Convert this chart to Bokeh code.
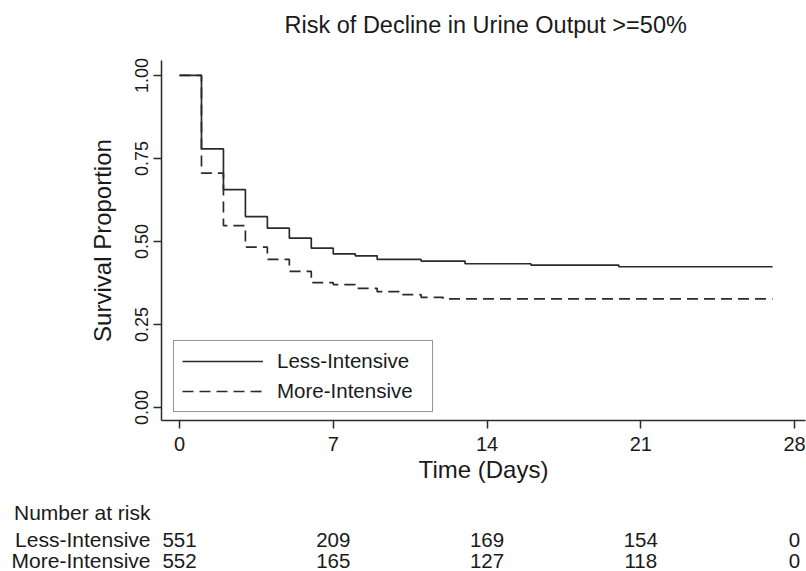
from bokeh.plotting import figure
from bokeh.models import (Range1d, FixedTicker, Legend, LegendItem, ColumnDataSource,
                          LabelSet)
from bokeh.layouts import column
from bokeh.embed import file_html
from bokeh.resources import INLINE
from bokeh.core.properties import value

# ---------------- data ----------------
title_text = "Risk of Decline in Urine Output >=50%"
groups = ["Less-Intensive", "More-Intensive"]

less_t = [0, 1, 2, 3, 4, 5, 6, 7, 8, 9, 11, 13, 16, 20, 27]
less_s = [1.0, 0.779, 0.656, 0.575, 0.540, 0.510, 0.480, 0.463, 0.457, 0.446,
          0.441, 0.433, 0.429, 0.424, 0.424]

more_t = [0, 1, 2, 3, 4, 5, 6, 7, 8, 9, 10, 11, 12, 27]
more_s = [1.0, 0.706, 0.548, 0.483, 0.446, 0.410, 0.376, 0.370, 0.359, 0.349,
          0.340, 0.332, 0.327, 0.327]

x_ticks = [0, 7, 14, 21, 28]
y_ticks = [0, 0.25, 0.5, 0.75, 1.0]
y_tick_labels = ["0.00", "0.25", "0.50", "0.75", "1.00"]

risk_title = "Number at risk"
risk_times = [0, 7, 14, 21, 28]
risk_less = [551, 209, 169, 154, 0]
risk_more = [552, 165, 127, 118, 0]

# ---------------- style / layout ----------------
FONT = "Liberation Sans"
TXT = "#1a1a1a"
LINE = "#2b2b2b"
W = 806
HT = 40                      # title strip
H1 = 450                     # main plot
H2 = 81                      # number-at-risk strip
BL, BR = 161, 1
x_start, x_end = -0.82, 28.5
y_start, y_end = -0.039, 1.045
TITLE_Y = 24
ROW_Y = [22, 49, 70]         # row centres (px from top of the table strip)


def bare(fig):
    fig.outline_line_color = None
    fig.grid.visible = False
    fig.border_fill_color = "white"
    fig.background_fill_color = "white"


# ---------------- title strip ----------------
pt = figure(width=W, height=HT, output_backend="svg", toolbar_location=None,
            x_range=Range1d(x_start, x_end), y_range=Range1d(HT, 0),
            min_border_left=BL, min_border_right=BR, min_border_top=0,
            min_border_bottom=0, x_axis_location=None, y_axis_location=None)
bare(pt)
pt.text(x=[(x_start + x_end) / 2 + 0.1], y=[TITLE_Y], text=[title_text],
        text_align="center", text_baseline="middle", text_font=value(FONT),
        text_font_size="23.5px", text_color=TXT)

# ---------------- main plot ----------------
p = figure(width=W, height=H1, output_backend="svg", toolbar_location=None,
           x_range=pt.x_range, y_range=Range1d(y_start, y_end),
           min_border_left=BL, min_border_right=BR, min_border_top=20,
           min_border_bottom=70)
bare(p)

for ax in (p.xaxis[0], p.yaxis[0]):
    ax.axis_line_color = LINE
    ax.axis_line_width = 1.5
    ax.major_tick_line_color = LINE
    ax.major_tick_line_width = 1.5
    ax.major_tick_out = 8
    ax.major_tick_in = 0
    ax.minor_tick_out = 0
    ax.minor_tick_in = 0
    ax.major_label_text_font = FONT
    ax.major_label_text_color = TXT
    ax.axis_label_text_font = FONT
    ax.axis_label_text_font_style = "normal"
    ax.axis_label_text_color = TXT
    ax.axis_label_text_font_size = "24px"

p.xaxis.ticker = FixedTicker(ticks=x_ticks, minor_ticks=[])
p.xaxis.major_label_text_font_size = "20px"
p.xaxis.axis_label = "Time (Days)"
p.xaxis.major_label_standoff = 8
p.xaxis.axis_label_standoff = 2

p.yaxis.ticker = FixedTicker(ticks=y_ticks, minor_ticks=[])
p.yaxis.major_label_overrides = {t: l for t, l in zip(y_ticks, y_tick_labels)}
p.yaxis.major_label_text_font_size = "18px"
p.yaxis.major_label_orientation = "vertical"
p.yaxis.major_label_standoff = 5
p.yaxis.axis_label = "Survival Proportion"
p.yaxis.axis_label_standoff = 17

src_less = ColumnDataSource(dict(t=less_t, s=less_s))
src_more = ColumnDataSource(dict(t=more_t, s=more_s))
r1 = p.step("t", "s", source=src_less, mode="after", line_color=LINE, line_width=1.7)
r2 = p.step("t", "s", source=src_more, mode="after", line_color=LINE, line_width=1.7,
            line_dash="11 6")

legend = Legend(items=[LegendItem(label=groups[0], renderers=[r1]),
                       LegendItem(label=groups[1], renderers=[r2])],
                location=(12, 8), margin=0, padding=8, spacing=6,
                glyph_width=81, glyph_height=22, label_height=22, label_width=147,
                label_standoff=14, border_line_color=LINE, border_line_width=1.3,
                background_fill_color="white", background_fill_alpha=1.0,
                label_text_font=FONT, label_text_font_size="20.5px",
                label_text_color=TXT)
p.add_layout(legend)

# ---------------- number at risk strip ----------------
p2 = figure(width=W, height=H2, output_backend="svg", toolbar_location=None,
            x_range=pt.x_range, y_range=Range1d(H2, 0),
            min_border_left=BL, min_border_right=BR, min_border_top=0,
            min_border_bottom=0, x_axis_location=None, y_axis_location="left")
bare(p2)

ya = p2.yaxis[0]
ya.ticker = FixedTicker(ticks=ROW_Y, minor_ticks=[])
ya.major_label_overrides = {ROW_Y[0]: risk_title, ROW_Y[1]: groups[0], ROW_Y[2]: groups[1]}
ya.axis_line_color = None
ya.major_tick_line_color = None
ya.minor_tick_line_color = None
ya.major_tick_out = 0
ya.major_tick_in = 0
ya.major_label_standoff = 11
ya.major_label_text_font = FONT
ya.major_label_text_font_size = "21px"
ya.major_label_text_color = TXT

num_src = ColumnDataSource(dict(x=risk_times + risk_times,
                                y=[ROW_Y[1]] * len(risk_times) + [ROW_Y[2]] * len(risk_times),
                                text=[str(v) for v in risk_less + risk_more]))
p2.add_layout(LabelSet(x="x", y="y", text="text", source=num_src, text_align="center",
                       text_baseline="middle", text_font=value(FONT),
                       text_font_size=value("20.5px"), text_color=value(TXT)))

layout = column(pt, p, p2, spacing=0)
open("out.html", "w").write(file_html(layout, INLINE))
